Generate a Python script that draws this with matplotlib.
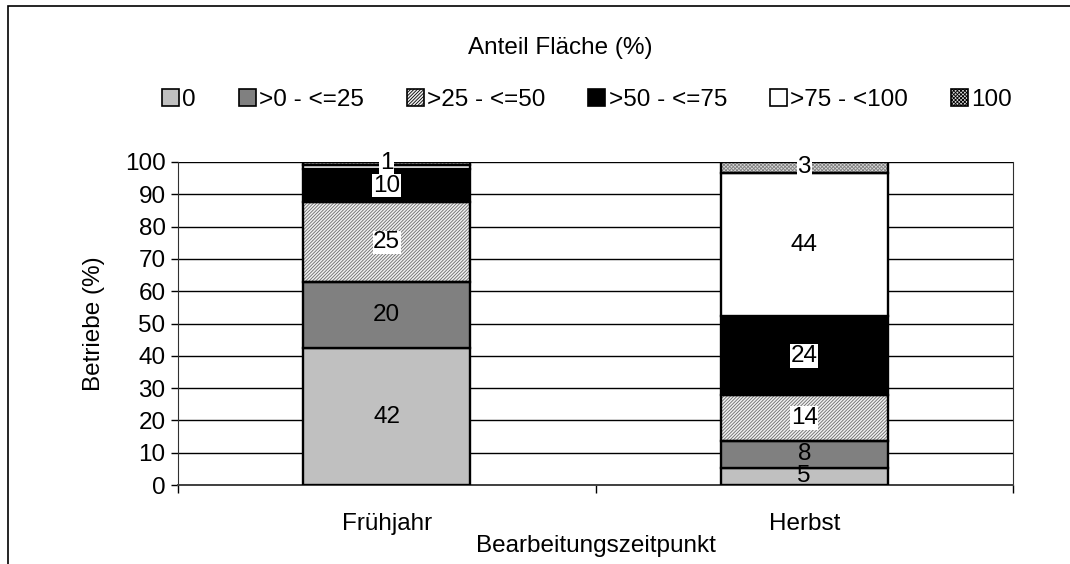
import matplotlib
matplotlib.use("Agg")
import matplotlib.pyplot as plt
from matplotlib.patches import Rectangle, Patch
import numpy as np

FS = 17.5
plt.rcParams['font.family'] = ['Liberation Sans', 'DejaVu Sans']
plt.rcParams['font.size'] = FS
plt.rcParams['hatch.linewidth'] = 0.6

categories = ["Frühjahr", "Herbst"]
series_names = ["0", ">0 - <=25", ">25 - <=50", ">50 - <=75", ">75 - <100", "100"]
values = {
    "0":          [42.4, 5.4],
    ">0 - <=25":  [20.3, 8.3],
    ">25 - <=50": [24.8, 14.1],
    ">50 - <=75": [10.4, 24.4],
    ">75 - <100": [1.2, 44.4],
    "100":        [0.9, 3.4],
}
labels = {
    "0":          ["42", "5"],
    ">0 - <=25":  ["20", "8"],
    ">25 - <=50": ["25", "14"],
    ">50 - <=75": ["10", "24"],
    ">75 - <100": ["", "44"],
    "100":        ["1", "3"],
}

styles = {
    "0":          dict(fc="#C0C0C0", hatch=None, hc=None, box=False),
    ">0 - <=25":  dict(fc="#808080", hatch=None, hc=None, box=False),
    ">25 - <=50": dict(fc="#f0f0f0", hatch="//////////", hc="#6a6a6a", box=True),
    ">50 - <=75": dict(fc="black", hatch=None, hc=None, box=True),
    ">75 - <100": dict(fc="white", hatch=None, hc=None, box=False),
    "100":        dict(fc="#d8d8d8", hatch="xxxxxxxxx", hc="#808080", box=True),
}

W, H = 1070, 564
fig = plt.figure(figsize=(W / 100, H / 100), dpi=100)
ax = fig.add_axes([178 / W, 1 - 485 / H, (1013 - 178) / W, (485 - 162) / H])

x = np.arange(len(categories))
bw = 0.4
bottom = np.zeros(len(categories))
for name in series_names:
    v = np.array(values[name])
    st = styles[name]
    if st["hatch"]:
        ax.bar(x, v, bw, bottom=bottom, color=st["fc"], edgecolor=st["hc"],
               hatch=st["hatch"], linewidth=0, zorder=2)
        ax.bar(x, v, bw, bottom=bottom, fill=False, edgecolor="black",
               linewidth=1.7, zorder=3)
    else:
        ax.bar(x, v, bw, bottom=bottom, color=st["fc"], edgecolor="black",
               linewidth=1.7, zorder=3)
    for i in range(len(categories)):
        lab = labels[name][i]
        if not lab:
            continue
        yc = bottom[i] + v[i] / 2
        kw = {}
        if st["box"]:
            kw["bbox"] = dict(facecolor="white", edgecolor="none", pad=0.5)
        ax.text(x[i], yc, lab, ha="center", va="center", fontsize=FS,
                color="black", zorder=5, **kw)
    bottom = bottom + v

ax.set_xlim(-0.5, 1.5)
ax.set_ylim(0, 100)
ax.set_yticks(np.arange(0, 101, 10))
ax.yaxis.grid(True, color="black", linewidth=1.0, zorder=0)
ax.set_axisbelow(True)
ax.set_xticks(x)
ax.set_xticklabels(categories)
ax.tick_params(axis="x", which="major", length=0, pad=20)
ax.set_xticks([-0.5, 0.5, 1.5], minor=True)
ax.tick_params(axis="x", which="minor", length=6, width=1, color="black")
ax.tick_params(axis="y", length=5, width=1, pad=4)
ax.spines["top"].set_visible(False)
ax.spines["left"].set_color("#303030")
ax.spines["right"].set_color("#303030")
ax.spines["bottom"].set_color("#404040")
ax.spines["bottom"].set_linewidth(1.4)
ax.set_ylabel("Betriebe (%)", labelpad=14)
ax.set_xlabel("Bearbeitungszeitpunkt", labelpad=0)

fig.text(560 / W, 1 - 48 / H, "Anteil Fläche (%)", ha="center", va="center", fontsize=FS)

handles = []
for name in series_names:
    st = styles[name]
    if st["hatch"]:
        handles.append(Patch(facecolor=st["fc"], edgecolor="black", hatch=st["hatch"], linewidth=1.2))
    else:
        handles.append(Patch(facecolor=st["fc"], edgecolor="black", linewidth=1.2))
fig.legend(handles, series_names, loc="center", bbox_to_anchor=(587 / W, 1 - 100 / H),
           ncol=6, frameon=False, handlelength=0.7, handleheight=0.7,
           handletextpad=0.15, columnspacing=1.75, fontsize=FS)

fig.add_artist(Rectangle((8 / W, -0.1), 1.2, 1 - 6 / H + 0.1, transform=fig.transFigure,
                         fill=False, edgecolor="black", linewidth=1.2))

fig.savefig("out.png", dpi=100)
